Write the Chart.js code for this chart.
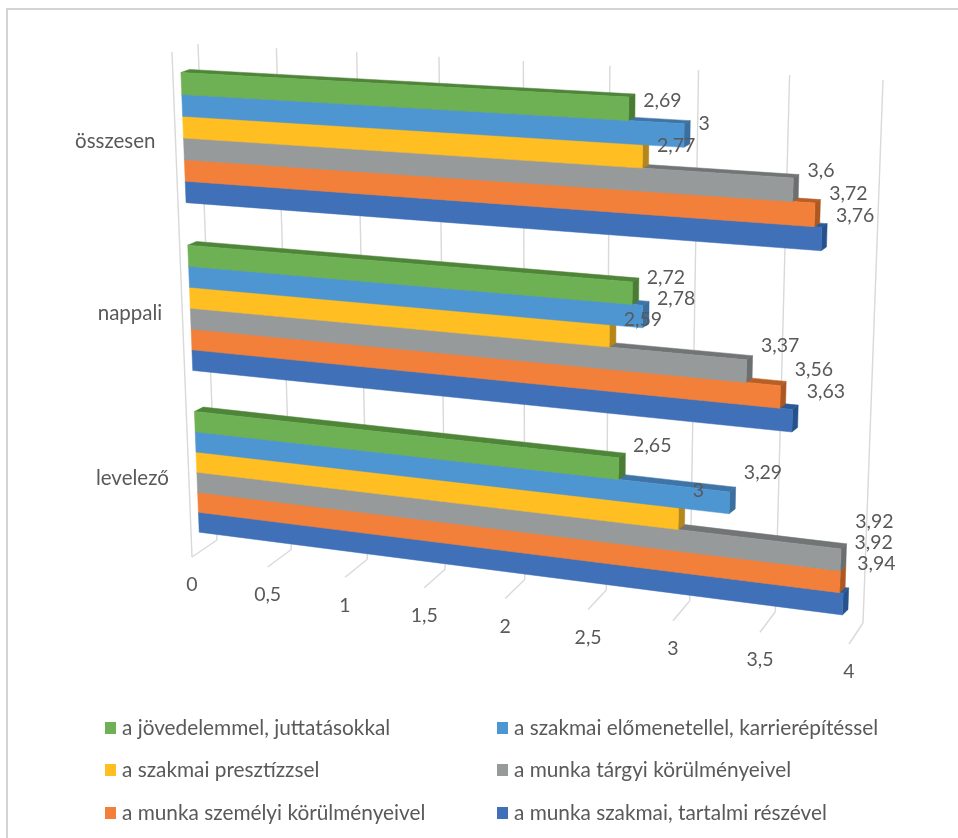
<!DOCTYPE html>
<html>
<head>
<meta charset="utf-8">
<title>chart</title>
<script src="https://cdn.jsdelivr.net/npm/chart.js@4/dist/chart.umd.min.js"></script>
<style>
html,body{margin:0;padding:0;background:#fff}
canvas{display:block}
</style>
</head>
<body>
<canvas id="graph" width="958" height="838"></canvas>
<script>
// data
const categories=["összesen","nappali","levelező"]
const seriesNames=["a jövedelemmel, juttatásokkal","a szakmai előmenetellel, karrierépítéssel","a szakmai presztízzsel","a munka tárgyi körülményeivel","a munka személyi körülményeivel","a munka szakmai, tartalmi részével"]
const jovedelem=[2.69,2.72,2.65]
const elomenetel=[3,2.78,3.29]
const presztizs=[2.77,2.59,3]
const targyi=[3.6,3.37,3.92]
const szemelyi=[3.72,3.56,3.92]
const tartalmi=[3.76,3.63,3.94]
const tickValues=[0,0.5,1,1.5,2,2.5,3,3.5,4]

const colors=["#6db154","#4e96d2","#ffbe22","#979a9a","#f2803a","#3f70b8"]
const colorsTop=["#4f8539","#3f74a6","#bd8c1a","#727575","#b85f26","#2a5a97"]
const colorsSide=["#4a7d33","#3a6f9f","#b5861a","#6c6f6f","#ad5722","#25528c"]

const textColor="#595959"
const gridColor="#d9d9d9"
const font="Lato"

// perspective planes : corners of the plot area on screen (top left, top right, bottom right, bottom left)
const barFront=makePlane([[180,50.5],[872,86],[852.5,638],[200,552]])
const barBack=makePlane([[188.5,47.5],[877,83],[858,632.5],[209,547]])
const wallBack=makePlane([[198,44],[883,80],[863,623],[217,540]])
const wallFront=makePlane([[172,52],[869,92],[849,644],[192,557]])

function makePlane(q){  // unit square -> quad
    const x0=q[0][0],y0=q[0][1],x1=q[1][0],y1=q[1][1],x2=q[2][0],y2=q[2][1],x3=q[3][0],y3=q[3][1]
    const dx1=x1-x2,dx2=x3-x2,sx=x0-x1+x2-x3
    const dy1=y1-y2,dy2=y3-y2,sy=y0-y1+y2-y3
    const den=dx1*dy2-dx2*dy1
    const g=(sx*dy2-dx2*sy)/den
    const h=(dx1*sy-sx*dy1)/den
    const a=x1-x0+g*x1,b=x3-x0+h*x3,d=y1-y0+g*y1,e=y3-y0+h*y3
    return function(s,t){
        const w=g*s+h*t+1
        return [(a*s+b*t+x0)/w,(d*s+e*t+y0)/w]
    }
}

function poly(ctx,pts,color){
    ctx.beginPath()
    ctx.moveTo(pts[0][0],pts[0][1])
    for(var i=1;i<pts.length;i++){
        ctx.lineTo(pts[i][0],pts[i][1])
    }
    ctx.closePath()
    ctx.fillStyle=color
    ctx.strokeStyle=color
    ctx.lineWidth=0.5
    ctx.fill()
    ctx.stroke()
}

function line(ctx,a,b){
    ctx.beginPath()
    ctx.moveTo(a[0],a[1])
    ctx.lineTo(b[0],b[1])
    ctx.stroke()
}

const plot3d={
    id:"plot3d",
    beforeDatasetsDraw(chart){   // replace the flat bars
        const ctx=chart.ctx
        const area=chart.chartArea
        const sOf=function(px){return (px-area.left)/area.width}
        const tOf=function(py){return (py-area.top)/area.height}

        // frame
        ctx.save()
        ctx.strokeStyle="#d4d4d4"
        ctx.lineWidth=2
        ctx.beginPath()
        ctx.moveTo(7,838)
        ctx.lineTo(7,9)
        ctx.lineTo(958,9)
        ctx.stroke()

        // walls and ticks
        ctx.strokeStyle=gridColor
        ctx.lineWidth=1.4
        line(ctx,wallFront(0,0),wallFront(0,1))
        ctx.fillStyle=textColor
        ctx.font="19.5px "+font
        ctx.textAlign="center"
        ctx.textBaseline="middle"
        for(var i=0;i<tickValues.length;i++){
            var s=sOf(chart.scales.x.getPixelForValue(tickValues[i]))
            line(ctx,wallBack(s,0),wallBack(s,1))
            line(ctx,wallBack(s,1),wallFront(s,1))
            var p=wallFront(s,1)
            ctx.fillText(String(tickValues[i]).replace(".",","),p[0],p[1]+28)
        }

        // category labels
        ctx.textAlign="right"
        ctx.font="20.5px "+font
        for(var c=0;c<categories.length;c++){
            var t=tOf(chart.scales.y.getPixelForValue(c))
            var pc=wallFront(0,t)
            ctx.fillText(categories[c],pc[0]-20,pc[1]+1.5)
        }

        // bars, from the lowest to the highest so the front faces hide the tops behind them
        for(var n=chart.data.datasets.length-1;n>=0;n--){
            var elems=chart.getDatasetMeta(n).data
            for(var j=0;j<elems.length;j++){
                var el=elems[j]
                var s0=sOf(el.base),s1=sOf(el.x)
                var t0=tOf(el.y-el.height/2),t1=tOf(el.y+el.height/2)
                poly(ctx,[barFront(s0,t0),barFront(s1,t0),barBack(s1,t0),barBack(s0,t0)],colorsTop[n])
                poly(ctx,[barFront(s1,t0),barFront(s1,t1),barBack(s1,t1),barBack(s1,t0)],colorsSide[n])
                poly(ctx,[barFront(s0,t0),barFront(s1,t0),barFront(s1,t1),barFront(s0,t1)],colors[n])
            }
        }

        // value labels
        ctx.textAlign="left"
        ctx.fillStyle=textColor
        ctx.font="19.5px "+font
        for(var n2=0;n2<chart.data.datasets.length;n2++){
            var ds=chart.data.datasets[n2]
            var elems2=chart.getDatasetMeta(n2).data
            for(var k=0;k<elems2.length;k++){
                var e2=elems2[k]
                var v=tOf(e2.y)
                var pe=barFront(sOf(e2.x),v)
                var up=10.5+9.5*(ds.data[k]-2.7)+23*(v-1/6)
                ctx.fillText(String(ds.data[k]).replace(".",","),pe[0]+14.5,pe[1]-up)
            }
        }

        // legend : two columns, three rows
        const colX=[105,497]
        const rowY=[728,770,813]
        ctx.font="20.8px "+font
        for(var m=0;m<seriesNames.length;m++){
            var lx=colX[m%2]
            var ly=rowY[Math.floor(m/2)]
            ctx.fillStyle=colors[m]
            ctx.fillRect(lx,ly-6,11,12)
            ctx.fillStyle=textColor
            ctx.fillText(chart.data.datasets[m].label,lx+17,ly)
        }
        ctx.restore()
        return false
    }
}

const seriesValues=[jovedelem,elomenetel,presztizs,targyi,szemelyi,tartalmi]
const datasets=[]
for(var i=0;i<seriesNames.length;i++){
    datasets.push({label:seriesNames[i],data:seriesValues[i],backgroundColor:colors[i],barPercentage:1,categoryPercentage:0.75})
}

new Chart(document.getElementById("graph"),{
    type:"bar",
    data:{labels:categories,datasets:datasets},
    options:{
        indexAxis:"y",
        responsive:false,
        animation:false,
        layout:{padding:0},
        plugins:{legend:{display:false},tooltip:{enabled:false},title:{display:false}},
        scales:{
            x:{display:false,min:0,max:4},
            y:{display:false}
        }
    },
    plugins:[plot3d]
})
</script>
</body>
</html>
